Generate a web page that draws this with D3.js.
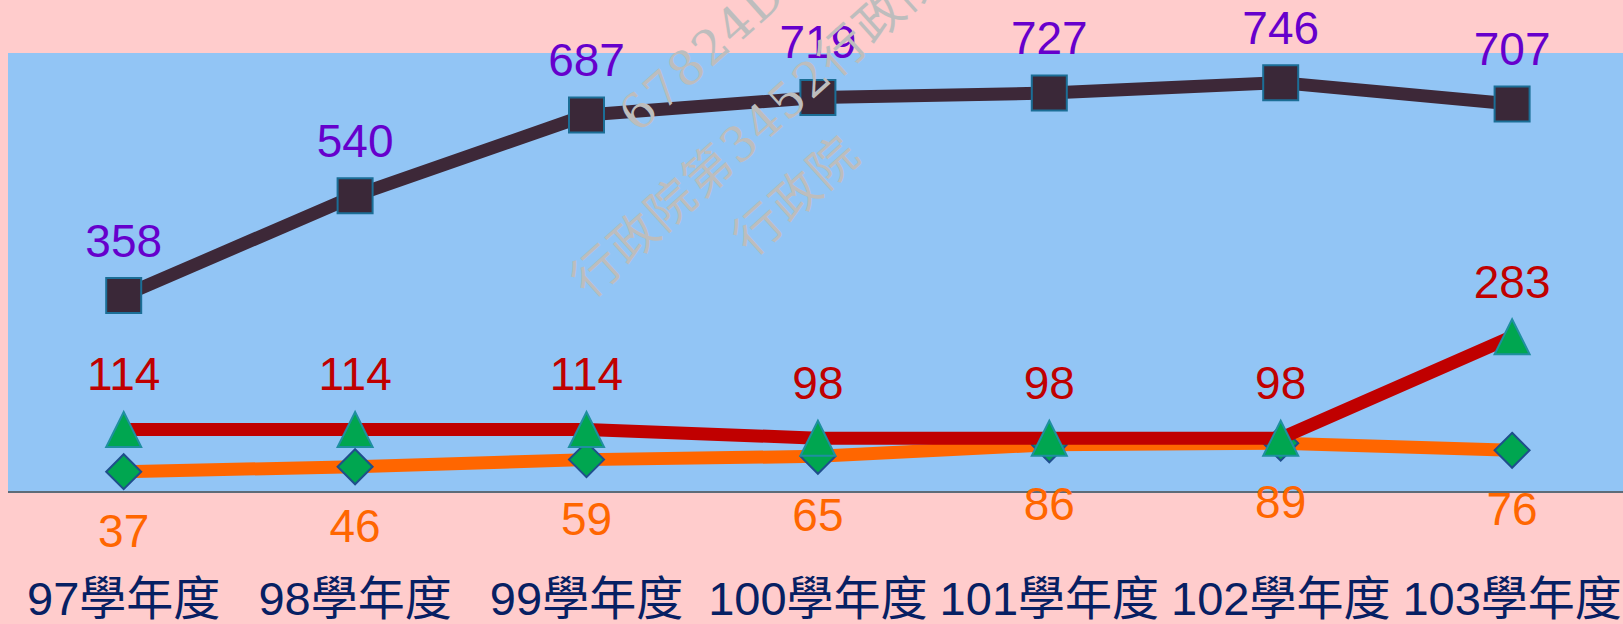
<!DOCTYPE html>
<html>
<head>
<meta charset="utf-8">
<script src="https://cdn.jsdelivr.net/npm/d3@7"></script>
<style>
  body { margin: 0; background: #FFCCCC; }
  svg { display: block; }
</style>
</head>
<body>
<script>
// data
var categories = ["97學年度", "98學年度", "99學年度", "100學年度", "101學年度", "102學年度", "103學年度"];
var topValues = [358, 540, 687, 719, 727, 746, 707];
var midValues = [114, 114, 114, 98, 98, 98, 283];
var lowValues = [37, 46, 59, 65, 86, 89, 76];
var watermarkLines = ["67824D8", "行政院第3452行政院", "行政院"];

// canvas and positioning magic numbers
var w = 1623;
var h = 624;
var plotLeft = 8;
var plotTop = 53;
var plotBottom = 492;
var bandWidth = 231.4;
var markerSize = 35;
var labelFont = "'Liberation Sans', Arial, 'Noto Sans CJK TC', sans-serif";

var svg = d3.select("body")
            .append("svg")
            .attr("width", w)
            .attr("height", h);

// background
svg.append("rect")
   .attr("width", w)
   .attr("height", h)
   .attr("fill", "#FFCCCC");

svg.append("rect")
   .attr("x", plotLeft)
   .attr("y", plotTop)
   .attr("width", w - plotLeft)
   .attr("height", plotBottom - plotTop)
   .attr("fill", "#92C5F5");

var xScale = d3.scaleBand()
               .domain(categories)
               .range([plotLeft, plotLeft + bandWidth * categories.length]);

var yScale = d3.scaleLinear()
               .domain([0, 800])
               .range([plotBottom, plotTop]);

function cx(d, i) { return xScale(categories[i]) + xScale.bandwidth() / 2; }

// x axis: just the baseline and the category labels
var xAxis = svg.append("g")
   .attr("transform", "translate(0," + plotBottom + ")")
   .call(d3.axisBottom(xScale).tickSize(0).tickSizeOuter(0));

xAxis.select(".domain")
     .attr("d", "M" + plotLeft + ",0H" + w)
     .attr("stroke", "#5E6B78")
     .attr("stroke-width", 2);

xAxis.selectAll(".tick text")
     .attr("y", 123)
     .attr("dy", 0)
     .attr("fill", "#072063")
     .style("font-family", labelFont)
     .style("font-size", "47px");

var line = d3.line()
             .x(cx)
             .y(function(d) { return yScale(d); });

function drawSeries(values, lineColor, labelColor, labelOffset, marker) {
    var g = svg.append("g");
    g.append("path")
     .datum(values)
     .attr("d", line)
     .attr("fill", "none")
     .attr("stroke", lineColor)
     .attr("stroke-width", 13)
     .attr("stroke-linejoin", "round");

    var half = markerSize / 2;
    g.selectAll("path.marker")
     .data(values)
     .enter()
     .append("path")
     .attr("class", "marker")
     .attr("transform", function(d, i) {
         return "translate(" + cx(d, i) + "," + yScale(d) + ")";
     })
     .attr("d", function() {
         if (marker.shape == "square")
             return "M" + (-half) + "," + (-half) + "h" + markerSize + "v" + markerSize + "h" + (-markerSize) + "Z";
         if (marker.shape == "triangle")
             return "M0," + (-half) + "L" + half + "," + half + "L" + (-half) + "," + half + "Z";
         return "M0," + (-half) + "L" + half + ",0L0," + half + "L" + (-half) + ",0Z";
     })
     .attr("fill", marker.fill)
     .attr("stroke", marker.stroke)
     .attr("stroke-width", 2);

    g.selectAll("text")
     .data(values)
     .enter()
     .append("text")
     .attr("x", cx)
     .attr("y", function(d) { return yScale(d) + labelOffset; })
     .attr("text-anchor", "middle")
     .attr("fill", labelColor)
     .style("font-family", labelFont)
     .style("font-size", "46px")
     .text(function(d) { return d; });
}

drawSeries(topValues, "#3D2838", "#6600CC", -39,
           { shape: "square", fill: "#3A2838", stroke: "#1B6E96" });
drawSeries(lowValues, "#FF6600", "#FF6600", 75,
           { shape: "diamond", fill: "#00A650", stroke: "#1F4E8C" });
drawSeries(midValues, "#C00000", "#C00000", -39,
           { shape: "triangle", fill: "#00A650", stroke: "#1F8FA0" });

// watermark, drawn on top
var wm = svg.append("g")
            .attr("fill", "#BDBDBD")
            .style("font-family", "'DejaVu Serif', 'Noto Sans CJK TC', serif")
            .style("font-size", "48px");

var wmStarts = [[638, 134], [590, 300], [752, 258]];
wm.selectAll("text")
  .data(watermarkLines)
  .enter()
  .append("text")
  .attr("transform", function(d, i) {
      return "translate(" + wmStarts[i][0] + "," + wmStarts[i][1] + ") rotate(-42)";
  })
  .style("letter-spacing", "2px")
  .text(function(d) { return d; });
</script>
</body>
</html>
